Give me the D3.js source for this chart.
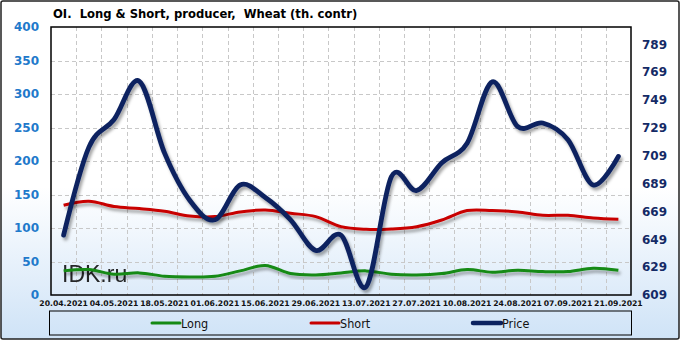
<!DOCTYPE html>
<html><head><meta charset="utf-8">
<script src="https://cdn.jsdelivr.net/npm/d3@7"></script>
<style>body{margin:0;background:#fff}svg{display:block}</style>
</head><body>
<svg id="c" width="681" height="341"></svg>
<script>
const dates = ["20.04.2021","27.04.2021","04.05.2021","11.05.2021","18.05.2021","25.05.2021","01.06.2021","08.06.2021","15.06.2021","22.06.2021","29.06.2021","06.07.2021","13.07.2021","20.07.2021","27.07.2021","03.08.2021","10.08.2021","17.08.2021","24.08.2021","31.08.2021","07.09.2021","14.09.2021","21.09.2021"];
const longVals  = [36,38,31,33,28,27,28,36,44,32,30,33,36,31,30,32,38,34,37,35,35,40,37];
const shortVals = [134,140,132,129,125,118,117,124,127,122,117,102,98,98.5,102,112,126,126,124,119,119,115,113];
const priceVals = [652,715,735,762.5,711,677,663,688,679,663,641,652,615,694,684,704,718,762,730,732.5,720.5,688,708.5];
const leftTicks = [0,50,100,150,200,250,300,350,400];
const rightTicks = [609,629,649,669,689,709,729,749,769,789];
const title = "OI.  Long & Short, producer,  Wheat (th. contr)";
const seriesNames = ["Long","Short","Price"];

const svg = d3.select("#c");
const defs = svg.append("defs");
const g = defs.append("linearGradient").attr("id","bg").attr("x1",0).attr("y1",0).attr("x2",0).attr("y2",1);
g.append("stop").attr("offset","0%").attr("stop-color","#ffffff");
g.append("stop").attr("offset","55%").attr("stop-color","#ffffff");
g.append("stop").attr("offset","100%").attr("stop-color","#cfe3f7");
const f = defs.append("filter").attr("id","sh").attr("x","-10%").attr("y","-20%").attr("width","120%").attr("height","140%");
f.append("feDropShadow").attr("dx",2).attr("dy",3).attr("stdDeviation",1.8).attr("flood-color","#000").attr("flood-opacity",0.35);

svg.append("rect").attr("x",1).attr("y",1).attr("width",678).attr("height",338).attr("rx",2)
  .attr("fill","url(#bg)").attr("stroke","#222").attr("stroke-width",1.5);

const L=51,R=631,T=27,B=295;
const x = d3.scaleBand().domain(dates).range([L,R]);
const bw = x.bandwidth();
const cx = d => x(d)+bw/2;
const yL = d3.scaleLinear().domain([0,400]).range([B,T]);
const yR = d3.scaleLinear().domain([609,801.4]).range([B,T]);

// grid
const grid = svg.append("g").attr("stroke","#c8c8c8").attr("stroke-dasharray","4,3").attr("stroke-width",1);
dates.slice(1).forEach(d=>{ grid.append("line").attr("x1",Math.round(x(d))+0.5).attr("x2",Math.round(x(d))+0.5).attr("y1",T).attr("y2",B); });
leftTicks.slice(1,-1).forEach(v=>{ grid.append("line").attr("x1",L).attr("x2",R).attr("y1",Math.round(yL(v))+0.5).attr("y2",Math.round(yL(v))+0.5); });

// watermark
svg.append("text").attr("x",62).attr("y",282).attr("font-family","Liberation Sans, Arial").attr("font-size",23)
  .attr("fill","#111").attr("opacity",0.9).text("IDK.ru");

// lines
const mk = (vals, ys) => d3.line().x((v,i)=>cx(dates[i])).y(v=>ys(v)).curve(d3.curveCatmullRom.alpha(0));
svg.append("path").datum(longVals).attr("d",mk(longVals,yL)).attr("fill","none").attr("stroke","#148a14").attr("stroke-width",3).attr("filter","url(#sh)");
svg.append("path").datum(shortVals).attr("d",mk(shortVals,yL)).attr("fill","none").attr("stroke","#c80000").attr("stroke-width",3).attr("filter","url(#sh)");
svg.append("path").datum(priceVals).attr("d",mk(priceVals,yR)).attr("fill","none").attr("stroke","#0b2260").attr("stroke-width",4.8).attr("stroke-linecap","round").attr("filter","url(#sh)");

// plot border
svg.append("rect").attr("x",L).attr("y",T).attr("width",R-L).attr("height",B-T).attr("fill","none").attr("stroke","#000").attr("stroke-width",1.5);

// axes
const axL = svg.append("g").attr("transform",`translate(${L},0)`).call(d3.axisLeft(yL).tickValues(leftTicks).tickSize(0).tickPadding(12));
axL.select(".domain").remove();
axL.selectAll("text").attr("font-family","DejaVu Sans, Verdana").attr("font-weight","bold").attr("font-size",12).attr("fill","#1f7acb");
const axR = svg.append("g").attr("transform",`translate(${R},0)`).call(d3.axisRight(yR).tickValues(rightTicks).tickSize(0).tickPadding(11));
axR.select(".domain").remove();
axR.selectAll("text").attr("font-family","DejaVu Sans, Verdana").attr("font-weight","bold").attr("font-size",12).attr("fill","#142a66");
const axB = svg.append("g").attr("transform",`translate(0,${B})`).call(d3.axisBottom(x).tickValues(dates.filter((d,i)=>i%2===0)).tickSize(0).tickPadding(6));
axB.select(".domain").remove();
axB.selectAll("text").attr("font-family","DejaVu Sans, Verdana").attr("font-weight","bold").attr("font-size",7.7).attr("fill","#111");

// title
svg.append("text").attr("x",53).attr("y",18).attr("font-family","DejaVu Sans, Verdana").attr("font-weight","bold").attr("font-size",11.6).attr("fill","#000").attr("xml:space","preserve").text(title);

// legend
svg.append("rect").attr("x",49.5).attr("y",311).attr("width",582).attr("height",24).attr("fill","none").attr("stroke","#000").attr("stroke-width",1);
const legColors = ["#148a14","#c80000","#0b2260"];
const legX = [152,311,473];
const legW = [3,3,4.5];
seriesNames.forEach((n,i)=>{
  svg.append("line").attr("x1",legX[i]).attr("x2",legX[i]+28).attr("y1",323).attr("y2",323).attr("stroke",legColors[i]).attr("stroke-width",legW[i]).attr("stroke-linecap","round");
  svg.append("text").attr("x",legX[i]+29).attr("y",327.5).attr("font-family","DejaVu Sans Condensed, DejaVu Sans").attr("font-size",12.5).attr("fill","#111").text(n);
});
</script>
</body></html>
